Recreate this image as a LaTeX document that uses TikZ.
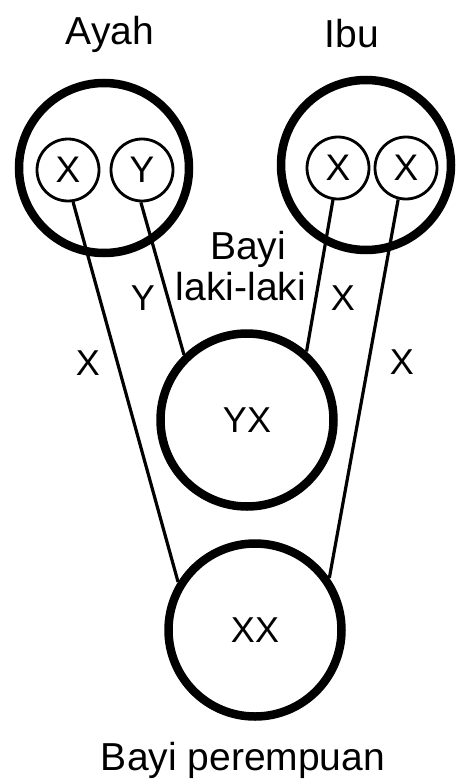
\documentclass[tikz,border=0pt]{standalone}
\usepackage{fontspec}
\setmainfont{Liberation Sans}
\usetikzlibrary{positioning}
\tikzset{
  parentcircle/.style={circle, draw, line width=8.5pt, minimum size=170pt, inner sep=0pt},
  genecircle/.style={circle, draw, line width=2.8pt, minimum size=62pt, inner sep=0pt,
    font=\fontsize{37}{38}\selectfont},
  babycircle/.style={circle, draw, line width=8.5pt, minimum size=173pt, inner sep=0pt,
    font=\fontsize{36}{38}\selectfont},
  chromline/.style={line width=3.2pt},
  genelabel/.style={font=\fontsize{36}{38}\selectfont, inner sep=0pt},
  namelabel/.style={font=\fontsize{39}{42}\selectfont, inner sep=0pt, align=center}
}

\begin{document}
\begin{tikzpicture}[x=1pt, y=-1pt]
\useasboundingbox (0,0) rectangle (458,784);
% parents
\node[parentcircle] (ayah) at (104,168) {};
\node[parentcircle] (ibu) at (366,165) {};
\node[genecircle] (ax) at (68,170) {X};
\node[genecircle] (ay) at (142,170) {Y};
\node[genecircle] (ix1) at (338,168) {X};
\node[genecircle] (ix2) at (406,168) {X};
\node[namelabel] (lblayah) at (110,34) {Ayah};
\node[namelabel] (lblibu) at (352,34) {Ibu};

% children
\node[babycircle] (yx) at (247,420) {YX};
\node[babycircle] (xx) at (255,630) {XX};
\node[namelabel, anchor=base] (lblboy) at (248,259) {Bayi};
\node[namelabel, anchor=base] (lblboy2) at (241,300) {laki-laki};
\node[namelabel] (lblgirl) at (243,760) {Bayi perempuan};

% chromosome paths
\draw[chromline] (ax.-81) -- (xx.148);
\draw[chromline] (ay.-92) -- (yx.134);
\draw[chromline] (ix1.-99) -- (yx.49);
\draw[chromline] (ix2.-104) -- (xx.35);

\node[genelabel] (ly) at (143,298) {Y};
\node[genelabel] (lx1) at (88,363) {X};
\node[genelabel] (lx2) at (343,298) {X};
\node[genelabel] (lx3) at (402,362) {X};
\end{tikzpicture}
\end{document}
